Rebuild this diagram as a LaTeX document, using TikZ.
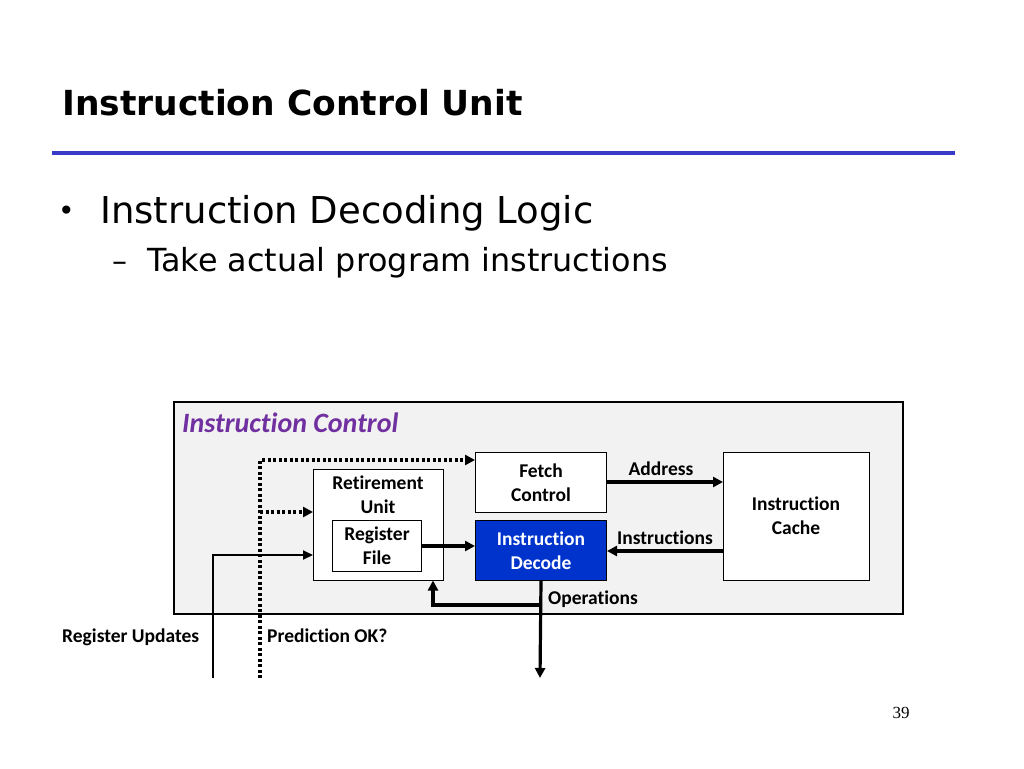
\documentclass[tikz,border=0pt]{standalone}
\usepackage{fontspec}
\setmainfont{DejaVu Sans}
\newfontfamily\diag[Ligatures=NoCommon]{Carlito}
\newfontfamily\titlefont{DejaVu Sans}
\newfontfamily\numfont{Liberation Serif}
\usetikzlibrary{arrows.meta}
\definecolor{rulecol}{RGB}{58,58,200}
\definecolor{boxgray}{RGB}{242,242,242}
\definecolor{decblue}{RGB}{0,51,204}
\definecolor{purp}{RGB}{112,48,160}
\tikzset{
  blk/.style={draw=black, line width=1pt, fill=white, inner sep=0pt, align=center, font=\diag\bfseries\fontsize{19.5}{24}\selectfont},
  lbl/.style={inner sep=0pt, font=\diag\bfseries\fontsize{19.5}{24}\selectfont},
  thick arrow/.style={line width=3.2pt, -{Triangle[length=10pt,width=10pt]}},
  thin arrow/.style={line width=2pt, -{Triangle[length=10pt,width=9pt]}},
  dot arrow/.style={line width=3.5pt, dash pattern=on 3pt off 2.5pt, -{Triangle[length=10pt,width=10pt]}},
}
\begin{document}
\begin{tikzpicture}[x=1pt,y=-1pt]
\useasboundingbox (0,0) rectangle (1024,768);
% title
\node[anchor=base west, inner sep=0pt, font=\titlefont\bfseries\fontsize{34.5}{40}\selectfont] (title) at (62,115) {Instruction Control Unit};
\draw[rulecol, line width=4pt] (52,153) -- (955,153);
% bullets
\node[anchor=base west, inner sep=0pt, font=\fontsize{28}{30}\selectfont] (bul) at (58,220) {•};
\node[anchor=base west, inner sep=0pt, font=\fontsize{37}{40}\selectfont] (b1) at (100,223) {Instruction Decoding Logic};
\node[anchor=base west, inner sep=0pt, font=\fontsize{30}{34}\selectfont] (dash) at (112,271) {–};
\node[anchor=base west, inner sep=0pt, font=\fontsize{31.8}{34}\selectfont] (b2) at (147,271) {Take actual program instructions};
% outer box
\node[draw=black, line width=2pt, fill=boxgray, minimum width=729pt, minimum height=212pt, anchor=north west, inner sep=0pt] (outer) at (173,401) {};
\node[anchor=base west, inner sep=0pt, text=purp, font=\diag\bfseries\itshape\fontsize{28}{30}\selectfont] (ictl) at (182,432) {Instruction Control};
% blocks
\node[blk, minimum width=131pt, minimum height=60pt, anchor=north west] (fetch) at (475,452) {Fetch\\Control};
\node[blk, minimum width=130pt, minimum height=111pt, anchor=north west] (ret) at (313,469) {};
\node[lbl, align=center, anchor=north] (rettxt) at (378,476) {Retirement\\Unit};
\node[blk, minimum width=89pt, minimum height=51pt, anchor=north west] (reg) at (332,520) {Register\\File};
\node[blk, fill=decblue, text=white, minimum width=131pt, minimum height=60pt, anchor=north west] (dec) at (475,520) {Instruction\\Decode};
\node[blk, minimum width=146pt, minimum height=128pt, anchor=north west] (cache) at (723,452) {};
\node[lbl, align=center] (cachetxt) at (796,516) {Instruction\\Cache};
% connectors
\draw[thick arrow] (fetch.east |- 0,482) -- (cache.west |- 0,482);
\node[lbl, anchor=base] (addr) at (661,475) {Address};
\draw[thick arrow] (cache.west |- 0,551) -- (dec.east |- 0,551);
\node[lbl, anchor=base] (instr) at (665,544) {Instructions};
\draw[thick arrow] (reg.east |- 0,546) -- (dec.west |- 0,546);
\coordinate (opsend) at (540,678);
\coordinate (opsbr) at (541.6,605);
\draw[thick arrow] (dec.south) -- (opsend);
\draw[thick arrow] (opsbr) -| (433,580.5);
\node[lbl, anchor=base west] (ops) at (548,604) {Operations};
% dotted prediction
\coordinate (predbot) at (260,678);
\coordinate (predtop) at (260,460);
\coordinate (predmid) at (260,512);
\draw[dot arrow] (predbot) -- (predtop) -- (fetch.west |- predtop);
\draw[dot arrow] (predmid) -- (ret.west |- predmid);
% register updates
\coordinate (rubot) at (213,678);
\draw[thin arrow] (rubot) |- (ret.west |- 0,555);
\node[lbl, anchor=base west] (ru) at (62,642) {Register Updates};
\node[lbl, anchor=base west] (pok) at (267,642) {Prediction OK?};
\node[anchor=base, inner sep=0pt, font=\numfont\fontsize{17}{20}\selectfont] (pg) at (901,718) {39};
\end{tikzpicture}
\end{document}
